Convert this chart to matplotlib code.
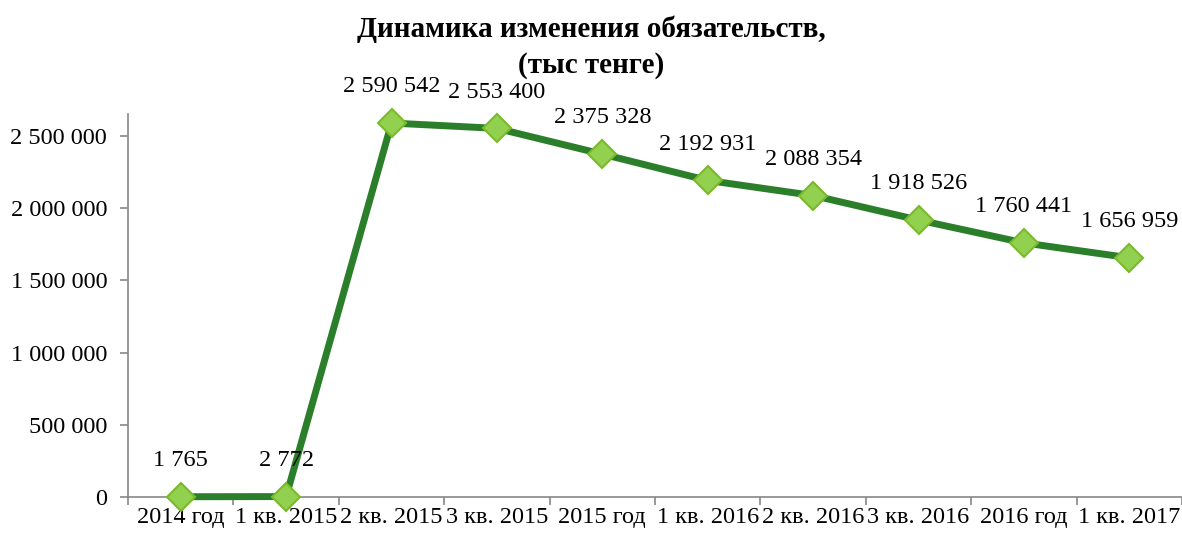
import matplotlib
matplotlib.use('Agg')
import matplotlib.pyplot as plt
from matplotlib.ticker import FuncFormatter, FixedLocator

plt.rcParams['font.family'] = ['Liberation Serif', 'DejaVu Serif']

# data
periods = ['2014 год', '1 кв. 2015', '2 кв. 2015', '3 кв. 2015', '2015 год',
           '1 кв. 2016', '2 кв. 2016', '3 кв. 2016', '2016 год', '1 кв. 2017']
values = [1765, 2772, 2590542, 2553400, 2375328, 2192931, 2088354,
          1918526, 1760441, 1656959]


def fmt(v, pos=None):
    return '{:,}'.format(int(v)).replace(',', ' ')


fig = plt.figure(figsize=(11.82, 5.36), dpi=100)
ax = fig.add_axes([0.1083, 0.0728, 0.8917, 0.7142])

x = list(range(len(periods)))
ax.plot(x, values, color='#2B7F2B', lw=5, marker='D', markersize=14,
        markerfacecolor='#92D050', markeredgecolor='#7AB929', markeredgewidth=1.5,
        solid_joinstyle='miter', zorder=3, clip_on=False)

for xi, v in zip(x, values):
    ax.annotate(fmt(v), (xi, v), xytext=(0, 26), textcoords='offset points',
                ha='center', va='center', fontsize=17.5)

ax.set_xlim(-0.5, len(periods) - 0.5)
ax.set_ylim(0, 2652000)
ax.set_yticks([0, 500000, 1000000, 1500000, 2000000, 2500000])
ax.yaxis.set_major_formatter(FuncFormatter(fmt))

# category labels between the boundary ticks
ax.set_xticks([i - 0.5 for i in range(len(periods) + 1)])
ax.set_xticklabels([])
ax.xaxis.set_minor_locator(FixedLocator(x))
ax.set_xticklabels(periods, minor=True)
ax.tick_params(axis='x', which='minor', length=0, labelsize=17.5, pad=7)
ax.tick_params(axis='x', which='major', length=6, width=1.2, color='#888888')
ax.tick_params(axis='y', length=6, width=1.2, color='#888888', labelsize=17.5, pad=9)

for s in ['top', 'right']:
    ax.spines[s].set_visible(False)
for s in ['left', 'bottom']:
    ax.spines[s].set_color('#888888')
    ax.spines[s].set_linewidth(1.2)

fig.text(0.5, 0.912, 'Динамика изменения обязательств,\n(тыс тенге)',
         ha='center', va='center', fontsize=21, fontweight='bold', linespacing=1.4)

fig.savefig('out.png', dpi=100)
